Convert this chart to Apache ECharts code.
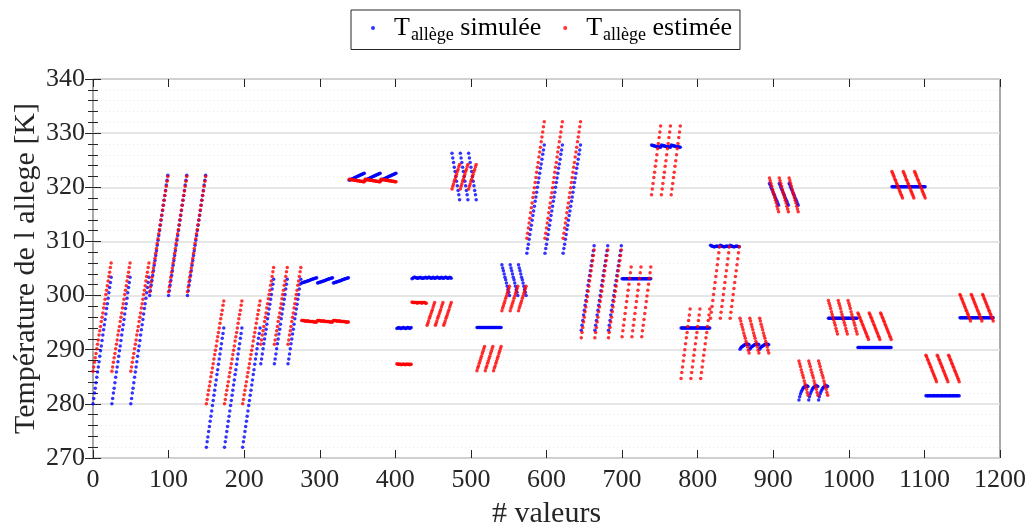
<!DOCTYPE html>
<html><head><meta charset="utf-8">
<script src="https://cdn.jsdelivr.net/npm/echarts@6/dist/echarts.min.js"></script>
<style>html,body{margin:0;padding:0;background:#fff}#c{width:1034px;height:529px}</style>
</head><body><div id="c"></div>
<script>
// Each group: one segment of values, repeated `repeats[g]` times along "# valeurs"
const repeats = [3,3,3,3,3,3,1,1,3,3,3,3,3,3,3,3,3,3,3,3,3,3,3,3,3,3];
const simulee = [
 [280.0,281.0,282.0,282.9,283.9,284.9,285.9,286.8,287.8,288.8,289.8,290.7,291.7,292.7,293.7,294.6,295.6,296.6,297.6,298.5,299.5,300.5,301.5,302.4,303.4],
 [300.0,300.9,301.9,302.8,303.7,304.6,305.6,306.5,307.4,308.3,309.3,310.2,311.1,312.0,313.0,313.9,314.8,315.7,316.7,317.6,318.5,319.4,320.4,321.3,322.2],
 [272.0,273.0,273.9,274.9,275.8,276.8,277.7,278.7,279.7,280.6,281.6,282.5,283.5,284.4,285.4,286.3,287.3,288.3,289.2,290.2,291.1,292.1,293.0,294.0],
 [287.4,288.3,289.2,290.2,291.1,292.0,292.9,293.8,294.7,295.7,296.6,297.5,298.4,299.3,300.2,301.2,302.1,303.0],
 [302.3,302.35,302.4,302.45,302.5,302.55,302.6,302.65,302.7,302.75,302.8,302.85,302.9,302.95,303.0,303.05,303.1,303.15,303.2,303.25,303.3],
 [321.30,321.37,321.43,321.50,321.56,321.63,321.69,321.76,321.82,321.89,321.95,322.02,322.08,322.15,322.21,322.28,322.34,322.41,322.47,322.54,322.60],
 [293.9,294.0,294.0,294.1,294.0,293.9,293.9,294.0,294.1,294.1,294.0,293.9,293.9,294.0,294.1,294.1,294.0,293.9,294.0,294.1],
 [303.1,303.2,303.3,303.4,303.4,303.3,303.3,303.2,303.2,303.3,303.3,303.4,303.3,303.2,303.2,303.2,303.3,303.3,303.4,303.3],
 [303.2,303.3,303.4,303.4,303.3,303.2,303.2,303.3,303.4,303.3,303.2],
 [326.3,325.4,324.6,323.7,322.9,322.0,321.1,320.3,319.4,318.6,317.7],
 [294.1,294.1,294.1,294.1,294.1,294.1,294.1,294.1,294.1,294.1,294.1],
 [305.7,305.1,304.6,304.0,303.4,302.9,302.3,301.7,301.1,300.6,300.0],
 [307.8,308.7,309.5,310.4,311.3,312.2,313.0,313.9,314.8,315.6,316.5,317.4,318.2,319.1,320.0,320.9,321.7,322.6,323.5,324.3,325.2,326.1,326.9,327.8],
 [293.6,294.5,295.4,296.4,297.3,298.2,299.1,300.0,300.9,301.9,302.8,303.7,304.6,305.5,306.4,307.4,308.3,309.2],
 [303.1,303.1,303.1,303.1,303.1,303.1,303.1,303.1,303.1,303.1,303.1,303.1,303.1],
 [327.8,327.7,327.7,327.7,327.6,327.6,327.6,327.5,327.5,327.5,327.5,327.4,327.4],
 [294.0,294.0,294.0,294.0,294.0,294.0,294.0,294.0,294.0,294.0,294.0,294.0,294.0],
 [309.3,309.2,309.1,309.1,309.0,309.0,309.0,309.1,309.1,309.1,309.1,309.0,309.0],
 [290.1,290.3,290.5,290.6,290.7,290.8,290.9,290.9,291.0,291.0,291.0,291.0,290.9],
 [320.7,320.4,320.0,319.7,319.4,319.0,318.7,318.4,318.0,317.7,317.4,317.0,316.7],
 [280.7,281.3,281.8,282.2,282.5,282.8,283.0,283.1,283.2,283.3,283.3,283.3,283.2],
 [295.8,295.8,295.8,295.8,295.8,295.8,295.8,295.8,295.8,295.8,295.8,295.8,295.8],
 [290.4,290.4,290.4,290.4,290.4,290.4,290.4,290.4,290.4,290.4,290.4,290.4,290.4,290.4,290.4],
 [320.1,320.1,320.1,320.1,320.1,320.1,320.1,320.1,320.1,320.1,320.1,320.1,320.1,320.1,320.1],
 [281.5,281.5,281.5,281.5,281.5,281.5,281.5,281.5,281.5,281.5,281.5,281.5,281.5,281.5,281.5],
 [295.9,295.9,295.9,295.9,295.9,295.9,295.9,295.9,295.9,295.9,295.9,295.9,295.9,295.9,295.9]
];
const estimee = [
 [286.0,286.8,287.7,288.5,289.3,290.2,291.0,291.8,292.7,293.5,294.3,295.2,296.0,296.8,297.7,298.5,299.3,300.2,301.0,301.8,302.7,303.5,304.3,305.2,306.0],
 [300.7,301.6,302.5,303.4,304.3,305.1,306.0,306.9,307.8,308.7,309.6,310.5,311.4,312.2,313.1,314.0,314.9,315.8,316.7,317.6,318.5,319.3,320.2,321.1,322.0],
 [280.0,280.8,281.7,282.5,283.3,284.1,285.0,285.8,286.6,287.4,288.3,289.1,289.9,290.7,291.6,292.4,293.2,294.0,294.9,295.7,296.5,297.3,298.2,299.0],
 [291.0,291.8,292.7,293.5,294.3,295.2,296.0,296.8,297.7,298.5,299.4,300.2,301.0,301.9,302.7,303.5,304.4,305.2],
 [295.4,295.4,295.4,295.4,295.3,295.3,295.3,295.3,295.3,295.3,295.2,295.2,295.2,295.2,295.2,295.2,295.1,295.1,295.1,295.1,295.1],
 [321.5,321.5,321.4,321.4,321.4,321.4,321.3,321.3,321.3,321.3,321.2,321.2,321.2,321.2,321.1,321.1,321.1,321.1,321.0,321.0,321.0],
 [287.4,287.3,287.3,287.3,287.3,287.3,287.2,287.3,287.3,287.3,287.3,287.2,287.3,287.3,287.3,287.3,287.3,287.2,287.3,287.3],
 [298.8,298.7,298.7,298.7,298.7,298.7,298.7,298.6,298.7,298.7,298.7,298.7,298.7,298.6,298.7,298.7,298.7,298.7,298.6,298.6],
 [294.5,294.9,295.3,295.8,296.2,296.6,297.0,297.4,297.9,298.3,298.7],
 [319.7,320.2,320.6,321.1,321.5,322.0,322.4,322.9,323.3,323.8,324.2],
 [286.1,286.6,287.0,287.5,287.9,288.4,288.8,289.3,289.7,290.2,290.6],
 [297.2,297.7,298.1,298.6,299.0,299.5,299.9,300.4,300.8,301.3,301.7],
 [310.6,311.5,312.5,313.4,314.3,315.3,316.2,317.1,318.1,319.0,319.9,320.9,321.8,322.8,323.7,324.6,325.6,326.5,327.4,328.4,329.3,330.2,331.2,332.1],
 [292.2,293.2,294.1,295.1,296.0,297.0,297.9,298.9,299.8,300.8,301.7,302.7,303.6,304.6,305.5,306.5,307.4,308.4],
 [292.4,293.5,294.5,295.6,296.7,297.8,298.9,299.9,301.0,302.1,303.2,304.2,305.3],
 [318.6,319.7,320.7,321.8,322.8,323.9,324.9,326.0,327.1,328.1,329.2,330.2,331.3],
 [284.7,285.8,286.8,287.9,289.0,290.0,291.1,292.2,293.2,294.3,295.4,296.4,297.5],
 [295.8,296.9,298.0,299.1,300.2,301.3,302.4,303.5,304.6,305.7,306.8,307.9,309.0],
 [295.8,295.3,294.7,294.2,293.7,293.1,292.6,292.1,291.5,291.0,290.5,289.9,289.4],
 [321.7,321.2,320.7,320.2,319.6,319.1,318.6,318.1,317.6,317.1,316.5,316.0,315.5],
 [287.9,287.4,286.9,286.3,285.8,285.3,284.8,284.2,283.7,283.2,282.7,282.1,281.6],
 [299.1,298.6,298.1,297.6,297.0,296.5,296.0,295.5,295.0,294.5,293.9,293.4,292.9],
 [296.8,296.5,296.1,295.8,295.4,295.1,294.7,294.4,294.0,293.7,293.3,293.0,292.6,292.3,291.9],
 [322.9,322.6,322.2,321.9,321.5,321.2,320.8,320.5,320.1,319.8,319.4,319.1,318.7,318.4,318.0],
 [289.0,288.7,288.3,288.0,287.6,287.3,286.9,286.6,286.2,285.9,285.5,285.2,284.8,284.5,284.1],
 [300.2,299.9,299.5,299.2,298.8,298.5,298.1,297.8,297.4,297.1,296.7,296.4,296.0,295.7,295.3]
];
const xTicks = [0,100,200,300,400,500,600,700,800,900,1000,1100,1200];
const yTicks = [270,280,290,300,310,320,330,340];

const simData = [], estData = [];
let idx = 0;
for (let g = 0; g < simulee.length; g++) {
  for (let r = 0; r < repeats[g]; r++) {
    for (let i = 0; i < simulee[g].length; i++) {
      simData.push([idx, simulee[g][i]]);
      estData.push([idx, estimee[g][i]]);
      idx++;
    }
  }
}

const FONT = '"Liberation Serif", "DejaVu Serif", serif';
const TXT = '#262626';
const chart = echarts.init(document.getElementById('c'));
const xBase = {type:'value', min:xTicks[0], max:xTicks[xTicks.length-1], interval:100};
const yBase = {type:'value', min:yTicks[0], max:yTicks[yTicks.length-1], interval:10};
chart.setOption({
  animation:false,
  backgroundColor:'#fff',
  grid:{left:93, right:34, top:79, bottom:71, containLabel:false, outerBoundsMode:'none',
    show:true, borderColor:'#555', borderWidth:1, backgroundColor:'transparent'},
  legend:{
    left:351, top:10, orient:'horizontal',
    padding:[5,8,5,20], itemGap:22,
    borderColor:TXT, borderWidth:1, backgroundColor:'#fff',
    itemWidth:4, itemHeight:4, icon:'circle',
    data:['sim','est'],
    formatter: n => n === 'sim' ? '{T|T}{s|allège} simulée' : '{T|T}{s|allège} estimée',
    textStyle:{fontFamily:FONT, fontSize:26, color:'#000', padding:[0,0,0,14],
      rich:{T:{fontFamily:FONT, fontSize:26, color:'#000'}, s:{fontFamily:FONT, fontSize:18, color:'#000', padding:[15,0,0,1]}}}
  },
  xAxis:[
    Object.assign({}, xBase, {position:'bottom', name:'# valeurs', nameLocation:'middle', nameGap:41, nameMoveOverlap:false,
      nameTextStyle:{fontFamily:FONT, fontSize:30, color:TXT},
      axisLine:{show:false}, axisTick:{show:true, inside:true, length:8, lineStyle:{color:TXT}},
      axisLabel:{fontFamily:FONT, fontSize:26, color:TXT, margin:9, formatter: v => String(v)},
      splitLine:{show:false}}),
    Object.assign({}, xBase, {position:'top', axisLine:{show:false}, axisLabel:{show:false},
      axisTick:{show:true, inside:true, length:8, lineStyle:{color:TXT}}, splitLine:{show:false}})
  ],
  yAxis:[
    Object.assign({}, yBase, {position:'left', name:'Température de l allege [K]', nameLocation:'middle', nameGap:52, nameMoveOverlap:false,
      nameTextStyle:{fontFamily:FONT, fontSize:30, color:TXT},
      axisLine:{show:false}, axisTick:{show:true, inside:true, length:8, lineStyle:{color:TXT}},
      minorTick:{show:true, splitNumber:5, length:5, lineStyle:{color:TXT}},
      axisLabel:{fontFamily:FONT, fontSize:26, color:TXT, margin:8, formatter: v => String(v)},
      splitLine:{show:true, lineStyle:{color:'#dedede', width:1.5}},
      minorSplitLine:{show:true, lineStyle:{color:'#e6e6e6', type:[1,3], width:1}}}),
    Object.assign({}, yBase, {position:'right', axisLine:{show:false}, axisLabel:{show:false},
      axisTick:{show:true, inside:true, length:8, lineStyle:{color:TXT}},
      minorTick:{show:true, splitNumber:5, length:5, lineStyle:{color:TXT}},
      splitLine:{show:false}})
  ],
  series:[
    {name:'sim', type:'scatter', data:simData, xAxisIndex:0, yAxisIndex:0, symbol:'circle', symbolSize:3.5,
      itemStyle:{color:'#0000ff'}, emphasis:{disabled:true}},
    {name:'est', type:'scatter', data:estData, xAxisIndex:0, yAxisIndex:0, symbol:'circle', symbolSize:3.5,
      itemStyle:{color:'#ff0000'}, emphasis:{disabled:true}}
  ]
});
</script></body></html>
